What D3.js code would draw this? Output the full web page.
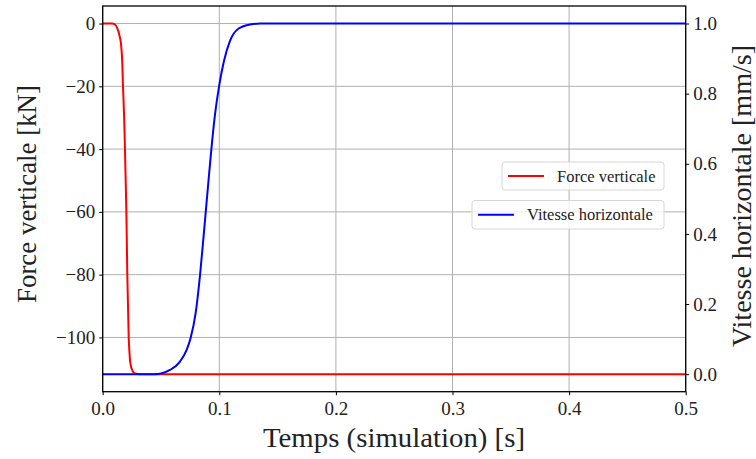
<!DOCTYPE html>
<html><head><meta charset="utf-8">
<script src="https://cdn.jsdelivr.net/npm/d3@7"></script>
<style>body{margin:0;background:#fff}svg{display:block}text{font-family:"Liberation Serif","DejaVu Serif",serif;fill:#222}</style>
</head><body><svg id="c" width="756" height="459"></svg>
<script>
// time (s) and force (kN)
const forceT = [0,0.008,0.0105,0.0125,0.0145,0.0157,0.0168,0.0174,0.0184,0.0191,0.0197,0.0203,0.0211,0.0223,0.0230,0.0237,0.0257,0.0277,0.032,0.5];
const forceV = [0,0,-0.3,-1.5,-4,-6.5,-12.6,-20,-30,-40,-50,-60,-80,-100,-105,-108.2,-110.8,-111.5,-111.7,-111.7];
// time (s) and horizontal speed (mm/s)
const speedT = [0,0.045,0.05,0.0577,0.0663,0.072,0.0754,0.0797,0.0834,0.0863,0.0883,0.0905,0.0931,0.0963,0.1,0.104,0.1091,0.1163,0.1263,0.135,0.5];
const speedV = [0,0,0.002,0.012,0.036,0.069,0.103,0.174,0.280,0.385,0.460,0.543,0.638,0.740,0.825,0.893,0.950,0.985,0.997,1.0,1.0];
const xTicks = [0,0.1,0.2,0.3,0.4,0.5];
const forceTicks = [0,-20,-40,-60,-80,-100];
const speedTicks = [0,0.2,0.4,0.6,0.8,1.0];
const labels = {x:"Temps (simulation) [s]", yl:"Force verticale [kN]", yr:"Vitesse horizontale [mm/s]"};
const legendNames = ["Force verticale","Vitesse horizontale"];

const svg = d3.select("#c");
const L=102.7, R=685.7, T=6, B=391.7;
const x = d3.scaleLinear().domain([0,0.5]).range([L,R]);
const fMin=-111.7, fMax=0, fPad=(fMax-fMin)*0.05;
const yF = d3.scaleLinear().domain([fMin-fPad,fMax+fPad]).range([B,T]);
const yS = d3.scaleLinear().domain([-0.05,1.05]).range([B,T]);
const fmtMinus = s => s.replace("-","\u2212");

// grid
const g = svg.append("g");
g.selectAll("line.vx").data(xTicks).join("line").attr("x1",d=>x(d)).attr("x2",d=>x(d)).attr("y1",T).attr("y2",B).attr("stroke","#b0b0b0").attr("stroke-width",1);
g.selectAll("line.hy").data(forceTicks).join("line").attr("x1",L).attr("x2",R).attr("y1",d=>yF(d)).attr("y2",d=>yF(d)).attr("stroke","#b0b0b0").attr("stroke-width",1);

// lines
const fData = forceT.map((t,i)=>[t,forceV[i]]);
const sData = speedT.map((t,i)=>[t,speedV[i]]);
svg.append("path").datum(fData).attr("fill","none").attr("stroke","#ff0000").attr("stroke-width",2)
  .attr("d",d3.line().x(d=>x(d[0])).y(d=>yF(d[1])).curve(d3.curveMonotoneX));
svg.append("path").datum(sData).attr("fill","none").attr("stroke","#0000ff").attr("stroke-width",2)
  .attr("d",d3.line().x(d=>x(d[0])).y(d=>yS(d[1])).curve(d3.curveMonotoneX));

// axes
const tickFont = "19px";
const ax = svg.append("g").attr("transform",`translate(0,${B})`).call(d3.axisBottom(x).tickValues(xTicks).tickFormat(d3.format(".1f")).tickSize(3.5).tickPadding(4));
const al = svg.append("g").attr("transform",`translate(${L},0)`).call(d3.axisLeft(yF).tickValues(forceTicks).tickFormat(d=>fmtMinus(String(d))).tickSize(3.5).tickPadding(4));
const ar = svg.append("g").attr("transform",`translate(${R},0)`).call(d3.axisRight(yS).tickValues(speedTicks).tickFormat(d3.format(".1f")).tickSize(3.5).tickPadding(4));
[ax,al,ar].forEach(a=>{
  a.select(".domain").remove();
  a.selectAll("text").style("font-size",tickFont).style("font-family","'Liberation Serif',serif").attr("fill","#222");
  a.selectAll("line").attr("stroke","#000").attr("stroke-width",1);
});
ax.selectAll("text").attr("dy","0.85em");
// frame
svg.append("rect").attr("x",L).attr("y",T).attr("width",R-L).attr("height",B-T).attr("fill","none").attr("stroke","#000").attr("stroke-width",1.3);

// axis labels
svg.append("text").attr("x",394).attr("y",447).attr("text-anchor","middle").style("font-size","27px")
  .attr("textLength",262).attr("lengthAdjust","spacingAndGlyphs").text(labels.x);
svg.append("text").attr("transform",`translate(36,194) rotate(-90)`).attr("text-anchor","middle").style("font-size","27px")
  .attr("textLength",218).attr("lengthAdjust","spacingAndGlyphs").text(labels.yl);
svg.append("text").attr("transform",`translate(751,196) rotate(-90)`).attr("text-anchor","middle").style("font-size","27px")
  .attr("textLength",302).attr("lengthAdjust","spacingAndGlyphs").text(labels.yr);

// legends
const legs = [
  {name:legendNames[0], color:"#ff0000", x0:502, y0:162, w:162, h:28},
  {name:legendNames[1], color:"#0000ff", x0:472, y0:200.5, w:192, h:28.5}
];
legs.forEach(l=>{
  const lg = svg.append("g");
  lg.append("rect").attr("x",l.x0).attr("y",l.y0).attr("width",l.w).attr("height",l.h).attr("rx",3)
    .attr("fill","rgba(255,255,255,0.8)").attr("stroke","#d6d6d6").attr("stroke-width",1);
  lg.append("line").attr("x1",l.x0+6).attr("x2",l.x0+42).attr("y1",l.y0+l.h/2).attr("y2",l.y0+l.h/2).attr("stroke",l.color).attr("stroke-width",2);
  lg.append("text").attr("x",l.x0+55).attr("y",l.y0+l.h/2+5.5).style("font-size","16.5px").text(l.name);
});
</script></body></html>
